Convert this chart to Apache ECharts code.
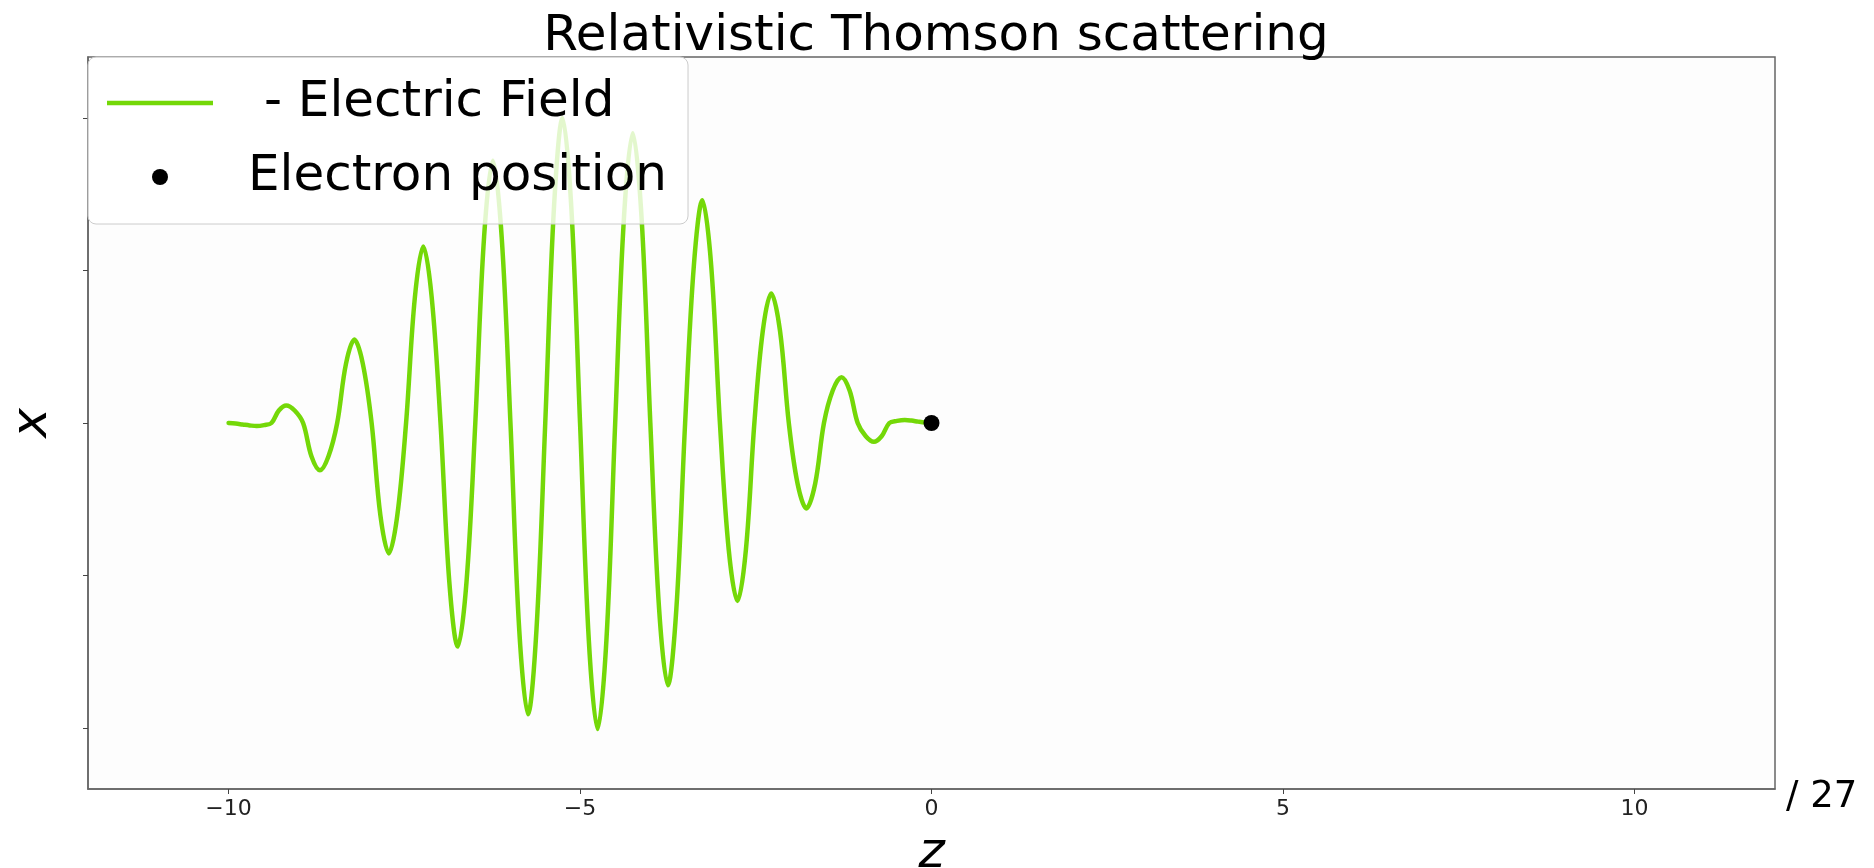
<!DOCTYPE html>
<html>
<head>
<meta charset="utf-8">
<title>Relativistic Thomson scattering</title>
<script src="https://cdn.jsdelivr.net/npm/echarts@6/dist/echarts.min.js"></script>
<style>
  html, body { margin: 0; padding: 0; background: #ffffff; }
  #chart { width: 1874px; height: 868px; }
</style>
</head>
<body>
<div id="chart"></div>
<script>
// Laser pulse: longitudinal coordinate z and transverse electric field amplitude
const fieldZ = [
  -10, -9.90, -9.80, -9.70, -9.60, -9.495, -9.39, -9.285, -9.18, -9.06, -8.94, -8.82,
  -8.70, -8.58, -8.455, -8.33, -8.21, -8.09, -7.965, -7.84, -7.72, -7.60,
  -7.475, -7.35, -7.23, -7.11, -6.985, -6.86, -6.74, -6.615, -6.49, -6.365,
  -6.24, -6.115, -5.99, -5.865, -5.74, -5.62, -5.495, -5.37, -5.25, -5.125,
  -5.00, -4.875, -4.75, -4.625, -4.50, -4.375, -4.25, -4.125, -4.00, -3.875,
  -3.75, -3.63, -3.505, -3.38, -3.26, -3.135, -3.01, -2.885, -2.76, -2.64,
  -2.52, -2.40, -2.28, -2.155, -2.03, -1.905, -1.78, -1.655, -1.53, -1.405,
  -1.28, -1.165, -1.05, -0.935, -0.82, -0.71, -0.60, -0.49, -0.38, -0.285, -0.19, -0.095, 0
];
const fieldE = [
  0, -0.004, -0.01, -0.016, -0.02, -0.014, 0, 0.082, 0.115, 0.082, 0, -0.22,
  -0.31, -0.22, 0, 0.388, 0.547, 0.388, 0, -0.607, -0.855, -0.607,
  0, 0.822, 1.158, 0.822, 0, -1.041, -1.466, -1.041, 0, 1.221,
  1.72, 1.221, 0, -1.356, -1.91, -1.356, 0, 1.42, 2.0, 1.42,
  0, -1.425, -2.007, -1.425, 0, 1.349, 1.9, 1.349, 0, -1.221,
  -1.72, -1.221, 0, 1.037, 1.46, 1.037, 0, -0.829, -1.167, -0.829,
  0, 0.604, 0.85, 0.604, 0, -0.398, -0.56, -0.398, 0, 0.213,
  0.3, 0.213, 0, -0.087, -0.123, -0.087, 0, 0.014, 0.02, 0.016, 0.009, 0.003, 0
];

// Electron position (z, x)
const electronZ = [0];
const electronX = [0];

// Axis ticks
const zTicks = [-10, -5, 0, 5, 10];
const xTicks = [-2, -1, 0, 1, 2];

const fieldName = ' - Electric Field';
const electronName = 'Electron position';

const fieldData = fieldZ.map((z, i) => [z, fieldE[i]]);
const electronData = electronZ.map((z, i) => [z, electronX[i]]);

const FONT = 'DejaVu Sans';
const chart = echarts.init(document.getElementById('chart'), null, { renderer: 'canvas' });

chart.setOption({
  backgroundColor: '#ffffff',
  animation: false,
  title: {
    text: 'Relativistic Thomson scattering',
    left: 931,
    textAlign: 'center',
    top: 7,
    textStyle: { fontFamily: FONT, fontSize: 50, fontWeight: 'normal', color: '#000000' }
  },
  grid: {
    left: 88, right: 99, top: 57, bottom: 79,
    outerBoundsMode: 'none',
    containLabel: false,
    show: true,
    backgroundColor: '#fdfdfd',
    borderColor: '#666666',
    borderWidth: 1.5
  },
  legend: {
    orient: 'vertical',
    left: 88,
    top: 57,
    padding: [21, 21, 22, 19],
    itemWidth: 106,
    itemHeight: 16,
    itemGap: 24,
    backgroundColor: 'rgba(255,255,255,0.8)',
    borderColor: '#cccccc',
    borderWidth: 1,
    borderRadius: 8,
    selectedMode: false,
    textStyle: { fontFamily: FONT, fontSize: 50, color: '#000000', padding: [0, 0, 0, 30] },
    data: [
      { name: fieldName, icon: 'path://M0,0H106V4.5H0Z' },
      { name: electronName, icon: 'circle', itemStyle: { color: '#000000', opacity: 1 } }
    ]
  },
  xAxis: {
    type: 'value',
    min: -12,
    max: 12,
    name: 'z',
    nameLocation: 'middle',
    nameGap: 40,
    nameTextStyle: { fontFamily: FONT, fontSize: 50, fontStyle: 'italic', color: '#000000' },
    splitLine: { show: false },
    axisLine: { show: true, onZero: false, lineStyle: { color: '#666666', width: 1.5 } },
    axisTick: { show: true, length: 5, customValues: zTicks, lineStyle: { color: '#444444' } },
    axisLabel: {
      customValues: zTicks,
      margin: 9,
      fontFamily: FONT,
      fontSize: 22,
      color: '#222222',
      formatter: v => (v < 0 ? '\u2212' + Math.abs(v) : String(v))
    }
  },
  yAxis: {
    type: 'value',
    min: -2.4,
    max: 2.4,
    name: 'x',
    nameLocation: 'middle',
    nameRotate: 90,
    nameGap: 30,
    nameTextStyle: { fontFamily: FONT, fontSize: 50, fontStyle: 'italic', color: '#000000' },
    splitLine: { show: false },
    axisLine: { show: true, onZero: false, lineStyle: { color: '#666666', width: 1.5 } },
    axisTick: { show: true, length: 5, customValues: xTicks, lineStyle: { color: '#444444' } },
    axisLabel: { show: false }
  },
  graphic: [
    {
      type: 'text',
      left: 1786,
      top: 779,
      style: { text: '/ 27', fontFamily: FONT, fontSize: 37, fill: '#000000' }
    }
  ],
  series: [
    {
      name: fieldName,
      type: 'line',
      data: fieldData,
      smooth: 0.35,
      showSymbol: false,
      symbol: 'none',
      color: '#74d808',
      lineStyle: { color: '#74d808', width: 4.5, join: 'round', cap: 'round' },
      z: 2
    },
    {
      name: electronName,
      type: 'scatter',
      data: electronData,
      symbol: 'circle',
      symbolSize: 16,
      itemStyle: { color: '#000000', opacity: 1 },
      z: 3
    }
  ]
});
</script>
</body>
</html>
